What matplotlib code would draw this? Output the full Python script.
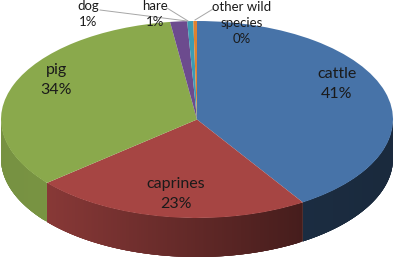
import numpy as np
import matplotlib
matplotlib.use("Agg")
import matplotlib.pyplot as plt
from matplotlib.lines import Line2D
from matplotlib.patches import Polygon

categories = ["cattle", "caprines", "pig", "dog", "hare", "other wild\nspecies"]
values = [41.0, 23.0, 34.0, 1.4, 0.5, 0.3]
pct_labels = ["41%", "23%", "34%", "1%", "1%", "0%"]
colors = ["#4773a8", "#a64543", "#8aa94c", "#6c4b8e", "#3d9bb2", "#e0812e"]
label_xy = [(337, 84), (176, 194), (56, 80), (88, 14), (155, 14), (242, 23)]
label_size = [11.5, 11.5, 11.5, 9.5, 9.5, 9.5]
label_spacing = [1.5, 1.5, 1.5, 1.4, 1.4, 1.4]
leaders = [None, None, None, ((100, 10), (187, 21)), ((167, 8), (188, 21)), ((213, 9), (195, 20))]

W, H = 394, 259
cx, cy, rx, ry, depth = 197, 119.5, 196, 98.5, 39

plt.rcParams["font.family"] = ["Lato", "DejaVu Sans"]
fig = plt.figure(figsize=(W / 100, H / 100), dpi=100, facecolor="white")
ax = fig.add_axes([(cx - rx) / W, 1 - (cy + ry) / H, 2 * rx / W, 2 * ry / H])

fr = np.array(values) / sum(values)
edges = np.concatenate([[0], np.cumsum(fr)]) * 2 * np.pi
d = depth / ry


def wall_shade(i, xm):
    if i == 0:
        return 0.42 - 0.06 * xm
    if i == 1:
        return 0.82 - 0.40 * (xm + 0.77) / 1.31
    return 0.86 + 0.05 * (xm + 1)


for i, col in enumerate(colors):
    a = np.append(np.arange(edges[i], edges[i + 1], 0.01), edges[i + 1])
    base = np.array(matplotlib.colors.to_rgb(col))
    for a0, a1 in zip(a[:-1], a[1:]):
        if np.cos(a0) >= 0 and np.cos(a1) >= 0:
            continue
        seg = np.linspace(a0, min(a1 + 0.03, edges[i + 1]), 6)
        top = np.column_stack([np.sin(seg), np.cos(seg)])
        bot = (top - [0, d])[::-1]
        ax.add_patch(Polygon(np.vstack([top, bot]), closed=True,
                             facecolor=base * wall_shade(i, np.sin((a0 + a1) / 2)),
                             edgecolor="none", clip_on=False))

ax.pie(values, colors=colors, startangle=90, counterclock=False, radius=1,
       wedgeprops={"linewidth": 0, "clip_on": False})
ax.set_aspect("auto")
ax.set_xlim(-1, 1)
ax.set_ylim(-1, 1)

for cat, pct, (x, y), fs, ls, lead in zip(categories, pct_labels, label_xy, label_size, label_spacing, leaders):
    if lead:
        fig.add_artist(Line2D([lead[0][0] / W, lead[1][0] / W],
                              [1 - lead[0][1] / H, 1 - lead[1][1] / H],
                              color="#a6a6a6", lw=0.7))
    fig.text(x / W, 1 - y / H, f"{cat}\n{pct}", ha="center", va="center", fontsize=fs,
             color="#1a1a1a", linespacing=ls)

fig.savefig("out.png", dpi=100, facecolor="white")
